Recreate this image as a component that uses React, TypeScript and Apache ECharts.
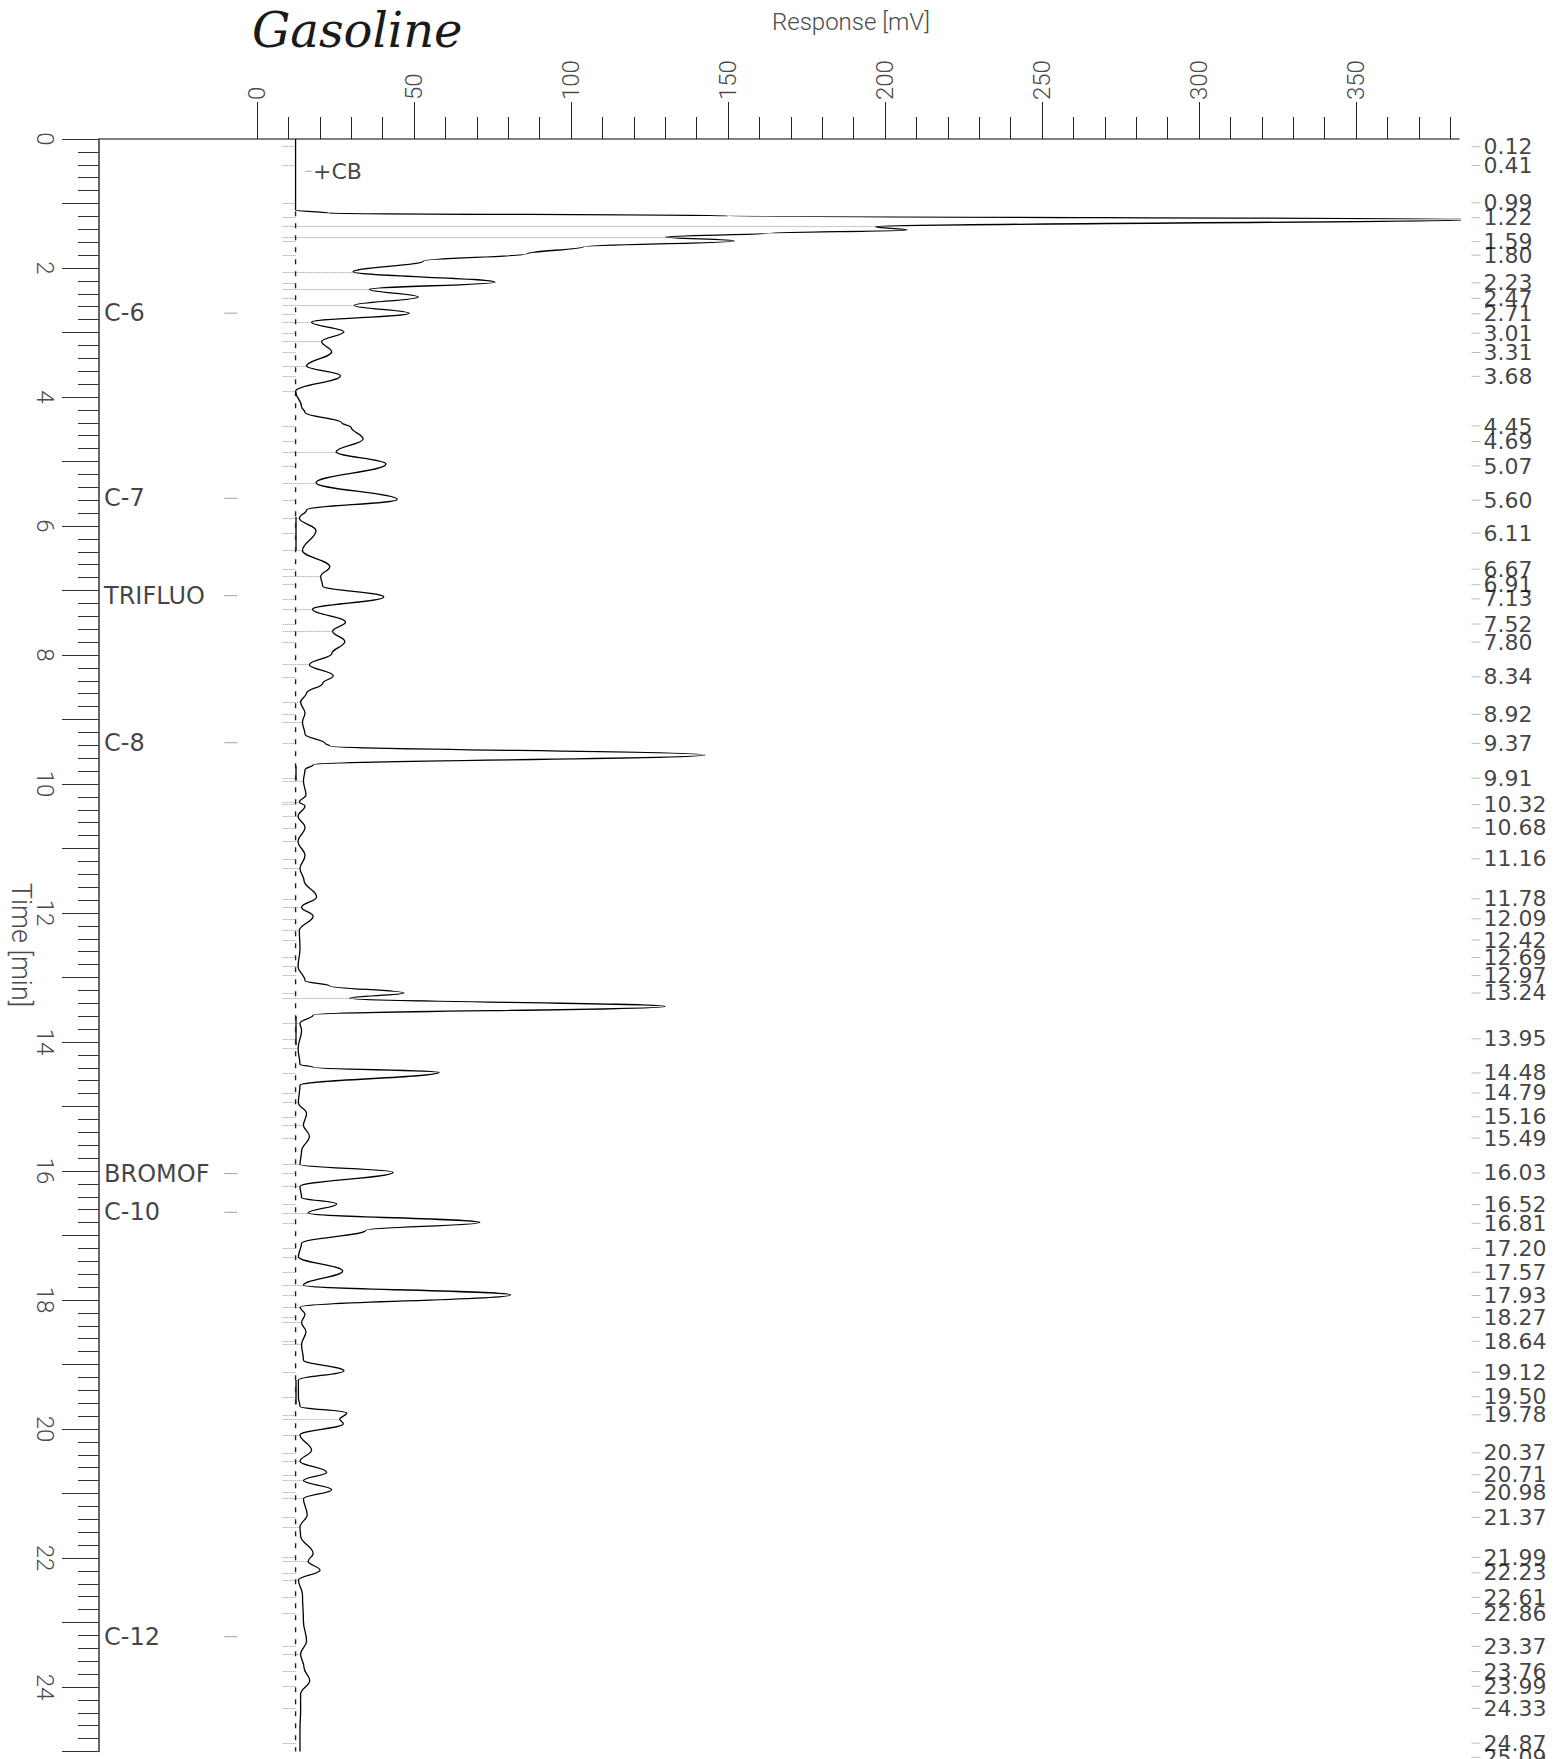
import React, { useEffect, useRef } from "react";
import * as echarts from "echarts";

// ---------- axis ticks ----------
const RESPONSE_LABEL_TICKS = [0, 50, 100, 150, 200, 250, 300, 350];
const RESPONSE_MINOR_TICKS = [
  0, 10, 20, 30, 40, 50, 60, 70, 80, 90, 100, 110, 120, 130, 140, 150, 160, 170, 180, 190,
  200, 210, 220, 230, 240, 250, 260, 270, 280, 290, 300, 310, 320, 330, 340, 350, 360, 370, 380,
];
const TIME_MIN = 0;
const TIME_MAX = 25;
const RESPONSE_MIN = -50.3;
const RESPONSE_MAX = 382.8;

// ---------- chromatogram trace: [time (min), response (mV)] ----------
const TRACE_EARLY = [
  [0, 12.3], [1.10, 12.3], [1.15, 23], [1.19, 150], [1.245, 388], [1.36, 197], [1.41, 207],
  [1.46, 163], [1.52, 130], [1.58, 152], [1.67, 104], [1.78, 86], [1.89, 53], [2.06, 30.6],
  [2.22, 75.8], [2.33, 35.7], [2.45, 51.4], [2.58, 31], [2.70, 48.5], [2.84, 17.4], [2.99, 27.7],
  [3.14, 20.6], [3.30, 23.8], [3.52, 15.8], [3.67, 26.6], [3.91, 12.3], [4.15, 14.2], [4.24, 15.3],
  [4.40, 27], [4.47, 30], [4.65, 33.8], [4.85, 25.2], [5.04, 41.1], [5.33, 18.8], [5.59, 44.7],
  [5.75, 15.8], [5.88, 13.5],
];
const TRACE_MID = [
  [6.07, 18.8], [6.38, 14.5], [6.63, 23.2], [6.78, 20.3], [6.93, 20.9], [7.10, 40.4], [7.29, 17.7],
  [7.49, 28.2], [7.63, 24.1], [7.79, 28.0], [7.98, 23.8], [8.15, 16.7], [8.32, 24.3], [8.44, 20.9],
  [8.59, 15.8], [8.73, 13.9], [8.90, 15.3], [9.04, 14.5], [9.23, 15.3], [9.37, 21.7], [9.41, 23.2],
  [9.55, 142.7], [9.70, 17.9], [9.78, 15.3], [9.95, 14.8], [10.17, 15.6], [10.28, 13.5], [10.34, 15.3],
  [10.50, 13.1], [10.67, 15.3], [10.89, 13.1], [11.11, 15.3], [11.31, 13.7], [11.50, 15.0],
  [11.75, 19.0], [11.91, 14.2], [12.05, 17.9], [12.27, 13.5], [12.55, 13.7], [12.83, 13.1],
  [13.05, 15.3], [13.13, 23.2], [13.24, 46.8], [13.32, 29.6], [13.45, 130], [13.58, 17.9],
  [13.71, 13.7], [13.82, 14.2], [14.10, 13.1], [14.35, 13.7], [14.39, 17.9],
];
const TRACE_LATE = [
  [14.47, 58], [14.67, 13.7], [14.94, 13.2], [15.11, 15.8], [15.29, 14.8], [15.46, 16.7],
  [15.69, 14.2], [15.90, 13.7], [16.02, 43.4], [16.24, 13.7], [16.41, 14.2], [16.51, 25.4],
  [16.65, 16.3], [16.80, 71], [16.92, 34.7], [17.12, 14.2], [17.33, 13.2], [17.55, 27.3],
  [17.77, 14.8], [17.92, 80.8], [18.11, 13.7], [18.22, 15.3], [18.35, 14.2], [18.49, 15.6],
  [18.69, 14.2], [18.93, 14.8], [19.10, 27.7], [19.24, 13.2], [19.51, 13.2], [19.65, 13.7],
  [19.75, 28.6], [19.85, 26.4], [19.92, 27.5], [20.09, 13.7], [20.33, 17.4], [20.50, 13.7],
  [20.67, 22.2], [20.80, 14.8], [20.94, 23.8], [21.08, 14.8], [21.33, 16.0], [21.52, 13.7],
  [21.66, 13.9], [21.93, 17.9], [22.05, 16.3], [22.19, 20.1], [22.34, 13.2], [22.57, 14.5],
  [22.98, 14.8], [23.29, 15.8], [23.49, 13.9], [23.70, 15.0], [23.90, 16.8], [24.11, 13.9],
  [24.38, 13.9], [24.65, 13.7], [25.0, 13.7],
];

// ---------- retention-time labels (right side) ----------
const PEAK_TIMES = [
  0.12, 0.41, 0.99, 1.22, 1.59, 1.8, 2.23, 2.47, 2.71, 3.01, 3.31, 3.68, 4.45, 4.69, 5.07, 5.6,
  6.11, 6.67, 6.91, 7.13, 7.52, 7.8, 8.34, 8.92, 9.37, 9.91, 10.32, 10.68, 11.16, 11.78, 12.09,
  12.42, 12.69, 12.97, 13.24, 13.95, 14.48, 14.79, 15.16, 15.49, 16.03, 16.52, 16.81, 17.2,
  17.57, 17.93, 18.27, 18.64, 19.12, 19.5, 19.78, 20.37, 20.71, 20.98, 21.37, 21.99, 22.23,
  22.61, 22.86, 23.37, 23.76, 23.99, 24.33, 24.87, 25.09,
];

// ---------- compound markers (left side) ----------
const COMPOUND_NAMES = ["C-6", "C-7", "TRIFLUO", "C-8", "BROMOF", "C-10", "C-12"];
const COMPOUND_TIMES = [2.7, 5.57, 7.08, 9.36, 16.04, 16.64, 23.22];

// ---------- baseline ----------
const BASELINE_MV = 12.3;
const BASELINE_START = 1.12;
const BASELINE_SOLID = [
  [5.86, 6.38],
  [9.72, 9.95],
  [13.6, 14.05],
  [19.24, 19.62],
];
const CB_TIME = 0.5;

export default function App() {
  const ref = useRef<HTMLDivElement>(null);

  useEffect(() => {
    if (!ref.current) return;
    const chart = echarts.init(ref.current, null, { renderer: "svg" });

    const trace = [...TRACE_EARLY, ...TRACE_MID, ...TRACE_LATE];
    const tracePts = trace.map(([t, v]) => [v, t]);

    // peak-boundary markers at the valleys of the trace
    const valleyLines: any[] = [];
    for (let i = 1; i < trace.length - 1; i++) {
      const [t, v] = trace[i];
      if (t < 1.3) continue;
      if (v < trace[i - 1][1] && v < trace[i + 1][1]) {
        valleyLines.push({ coords: [[8.2, t], [v, t]] });
      }
    }
    const peakTickLines = PEAK_TIMES.filter((t) => t <= TIME_MAX).map((t) => ({
      coords: [[8.2, t], [BASELINE_MV, t]],
    }));
    const solidLines = BASELINE_SOLID.map(([a, b]) => ({
      coords: [[BASELINE_MV, a], [BASELINE_MV, b]],
    }));

    const thinFont = { fontFamily: "Roboto", fontWeight: 300, color: "#4a4a4a" };
    const RIGHT_X = 388.2;
    const COMPOUND_TICK_X = -8.3;
    const CB_X = 16.4;

    const option: any = {
      animation: false,
      backgroundColor: "#ffffff",
      grid: {
        left: 99,
        right: 95,
        top: 139,
        bottom: 7.5,
        containLabel: false,
        outerBoundsMode: "none",
      },
      xAxis: [
        {
          type: "value",
          position: "top",
          min: RESPONSE_MIN,
          max: RESPONSE_MAX,
          axisLine: { show: true, onZero: false, lineStyle: { color: "#555", width: 1.5 } },
          axisTick: {
            show: true,
            customValues: RESPONSE_MINOR_TICKS,
            length: 22,
            lineStyle: { color: "#222", width: 1 },
          },
          axisLabel: {
            show: true,
            customValues: RESPONSE_LABEL_TICKS,
            rotate: -90,
            margin: 39,
            fontSize: 24,
            ...thinFont,
          },
          splitLine: { show: false },
        },
        {
          type: "value",
          position: "top",
          min: RESPONSE_MIN,
          max: RESPONSE_MAX,
          axisLine: { show: false, onZero: false },
          axisTick: {
            show: true,
            customValues: RESPONSE_LABEL_TICKS,
            length: 37,
            lineStyle: { color: "#222", width: 1 },
          },
          axisLabel: { show: false },
          splitLine: { show: false },
        },
      ],
      yAxis: [
        {
          type: "value",
          inverse: true,
          min: TIME_MIN,
          max: TIME_MAX,
          interval: 1,
          position: "left",
          axisLine: { show: true, onZero: false, lineStyle: { color: "#333", width: 1.5 } },
          axisTick: { show: true, length: 37, lineStyle: { color: "#333", width: 1 } },
          minorTick: { show: true, splitNumber: 5, length: 21, lineStyle: { color: "#333", width: 1 } },
          axisLabel: {
            formatter: (v: number) => (Math.round(v) % 2 === 0 ? String(v) : ""),
            rotate: -90,
            margin: 42,
            fontSize: 24,
            ...thinFont,
          },
          splitLine: { show: false },
          minorSplitLine: { show: false },
        },
      ],
      graphic: [
        {
          type: "text",
          left: 252,
          top: 6,
          style: { text: "Gasoline", font: 'italic 48px "DejaVu Serif"', fill: "#1a1a1a" },
        },
        {
          type: "text",
          left: 772,
          top: 10,
          style: { text: "Response [mV]", font: '300 24px Roboto', fill: "#4a4a4a" },
        },
        {
          type: "text",
          x: 21,
          y: 945,
          rotation: -Math.PI / 2,
          style: {
            text: "Time [min]",
            font: '300 27px Roboto',
            fill: "#4a4a4a",
            align: "center",
            verticalAlign: "middle",
          },
        },
      ],
      series: [
        {
          type: "lines",
          coordinateSystem: "cartesian2d",
          data: [...valleyLines, ...peakTickLines],
          lineStyle: { color: "#9a9a9a", width: 1, type: "dotted", opacity: 1 },
          silent: true,
          z: 1,
        },
        {
          type: "line",
          data: [[BASELINE_MV, BASELINE_START], [BASELINE_MV, TIME_MAX]],
          symbol: "none",
          lineStyle: { color: "#222", width: 1.4, type: [5, 7] },
          silent: true,
          z: 2,
        },
        {
          type: "lines",
          coordinateSystem: "cartesian2d",
          data: solidLines,
          lineStyle: { color: "#222", width: 1.5, opacity: 1 },
          silent: true,
          z: 2,
        },
        {
          type: "line",
          data: tracePts,
          smooth: 0.4,
          smoothMonotone: "y",
          symbol: "none",
          clip: false,
          lineStyle: { color: "#000", width: 1.3 },
          silent: true,
          z: 5,
        },
        {
          type: "scatter",
          data: PEAK_TIMES.map((t) => [RIGHT_X, t]),
          symbol: "rect",
          symbolSize: [9, 1],
          itemStyle: { color: "#aaaaaa" },
          clip: false,
          silent: true,
          label: {
            show: true,
            position: "right",
            distance: 3,
            formatter: (p: any) => p.value[1].toFixed(2),
            fontFamily: "DejaVu Sans",
            fontSize: 22,
            color: "#111",
          },
          z: 6,
        },
        {
          type: "scatter",
          data: COMPOUND_TIMES.map((t, i) => ({ value: [RESPONSE_MIN, t], name: COMPOUND_NAMES[i] })),
          symbolSize: 0,
          clip: false,
          silent: true,
          label: {
            show: true,
            position: "right",
            distance: 5,
            formatter: "{b}",
            fontFamily: "DejaVu Sans",
            fontSize: 24,
            color: "#111",
          },
          z: 6,
        },
        {
          type: "scatter",
          data: COMPOUND_TIMES.map((t) => [COMPOUND_TICK_X, t]),
          symbol: "rect",
          symbolSize: [13, 1],
          itemStyle: { color: "#888" },
          silent: true,
          z: 6,
        },
        {
          type: "scatter",
          data: [{ value: [CB_X, CB_TIME], name: "+CB" }],
          symbol: "rect",
          symbolSize: [7, 1],
          itemStyle: { color: "#999" },
          silent: true,
          label: {
            show: true,
            position: "right",
            distance: 1,
            formatter: "{b}",
            fontFamily: "DejaVu Sans",
            fontSize: 22,
            color: "#111",
          },
          z: 6,
        },
      ],
    };

    chart.setOption(option);
    return () => chart.dispose();
  }, []);

  return (
    <div
      ref={ref}
      style={{ position: "absolute", left: 0, top: 0, width: 1554, height: 1759, background: "#fff" }}
    />
  );
}
